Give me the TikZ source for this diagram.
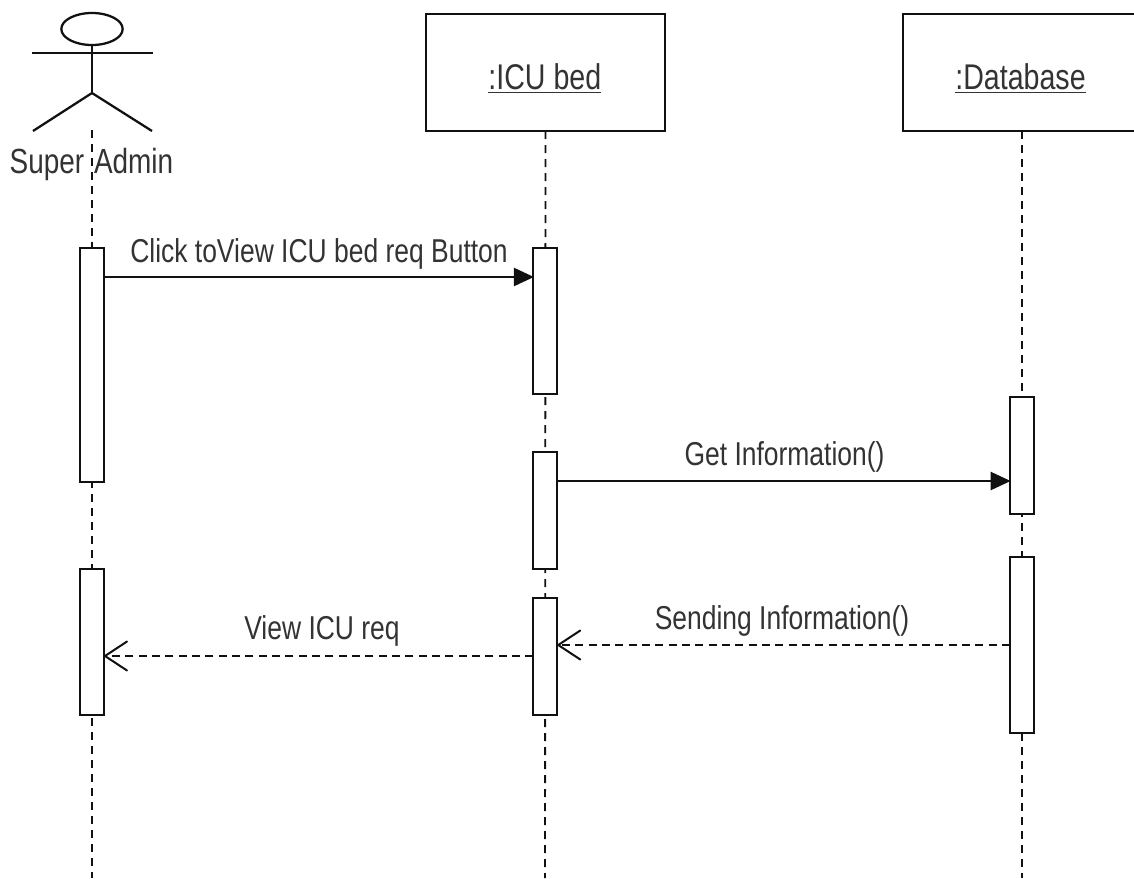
\documentclass[tikz,border=0pt]{standalone}
\usepackage{fontspec}
\setmainfont[FakeStretch=0.8]{Liberation Sans}
\usetikzlibrary{arrows.meta,shapes.geometric}
\definecolor{ink}{HTML}{111111}
\definecolor{txt}{HTML}{333333}
\tikzset{
 px/.style={x=0.75pt,y=-0.75pt},
 line/.style={draw=ink,line width=1.7pt},
 headbox/.style={line,outer sep=0pt,minimum width=179.25pt,minimum height=87.75pt,inner sep=0pt,anchor=north west,fill=white,text=txt,font=\fontsize{26.8}{30}\selectfont},
 act/.style={line,outer sep=0pt,fill=white,minimum width=18pt,inner sep=0pt,anchor=north},
 life/.style={draw=ink,line width=1.4pt,dash pattern=on 6pt off 4.5pt},
 msg/.style={line,-{Triangle[length=15pt,width=13.5pt]},shorten >=-0.5pt},
 ret/.style={draw=ink,line width=1.5pt,dash pattern=on 6pt off 4pt,-{Straight Barb[length=16.5pt,width=21.75pt,line width=1.5pt,round]}},
 lab/.style={inner sep=0pt,text=txt,font=\fontsize{24.8}{28}\selectfont}
}
\begin{document}
\begin{tikzpicture}[px]
\useasboundingbox (0,0) rectangle (1134,878);
\fill[white] (0,0) rectangle (1134,878);
% lifeline ends and message levels
\coordinate (L1) at (92,130); \coordinate (L1e) at (92,878);
\coordinate (L3) at (1022,131); \coordinate (L3e) at (1022,878);
\coordinate (L2e) at (545,878);
\coordinate (m1) at (0,277);
\coordinate (m2) at (0,481);
\coordinate (m3) at (0,645);
\coordinate (m4) at (0,656);
% boxes
\node[headbox] (bed) at (426,14) {\hspace*{-1pt}\raisebox{-4.5pt}[\height][\depth]{\underline{:ICU bed}}};
\node[headbox] (db) at (903,14) {\hspace*{-3pt}\raisebox{-4.5pt}[\height][\depth]{\underline{:Database}}};
% lifelines
\draw[life] (L1)--(L1e);
\draw[life] (bed.south)--(L2e);
\draw[life] (L3)--(L3e);
% actor
\node[line,ellipse,minimum width=46pt,minimum height=24pt,inner sep=0pt] (hd) at (92,29) {};
\coordinate (hip) at (92,93);
\coordinate (armL) at (32,53); \coordinate (armR) at (153,53);
\coordinate (footL) at (33,131); \coordinate (footR) at (152,131);
\draw[line] (hd.south)--(hip);
\draw[line] (armL)--(armR);
\draw[line] (footL)--(hip)--(footR);
\node[lab,font=\fontsize{26.2}{28}\selectfont] (actor) at (91.5,164) {Super\hspace{0.28em}Admin};
% activations
\node[act,minimum height=175.5pt] (a1) at (92,248) {};
\node[act,minimum height=109.5pt] (a2) at (92,569) {};
\node[act,minimum height=109.5pt] (b1) at (545.25,248) {};
\node[act,minimum height=87.75pt] (b2) at (545.25,452) {};
\node[act,minimum height=87.75pt] (b3) at (545.25,598) {};
\node[act,minimum height=87.75pt] (c1) at (1022,397) {};
\node[act,minimum height=132pt] (c2) at (1022,557) {};
% messages
\draw[msg] (a1.east |- m1) -- (b1.west |- m1);
\draw[msg] (b2.east |- m2) -- (c1.west |- m2);
\draw[ret] (c2.west |- m3) -- (b3.east |- m3);
\draw[ret] (b3.west |- m4) -- (a2.east |- m4);
% labels
\node[lab] (t1) at (319,254) {Click toView ICU bed req Button};
\node[lab] (t2) at (784.5,457) {Get Information()};
\node[lab] (t3) at (782,621) {Sending Information()};
\node[lab] (t4) at (322,631) {View ICU req};
\end{tikzpicture}
\end{document}
